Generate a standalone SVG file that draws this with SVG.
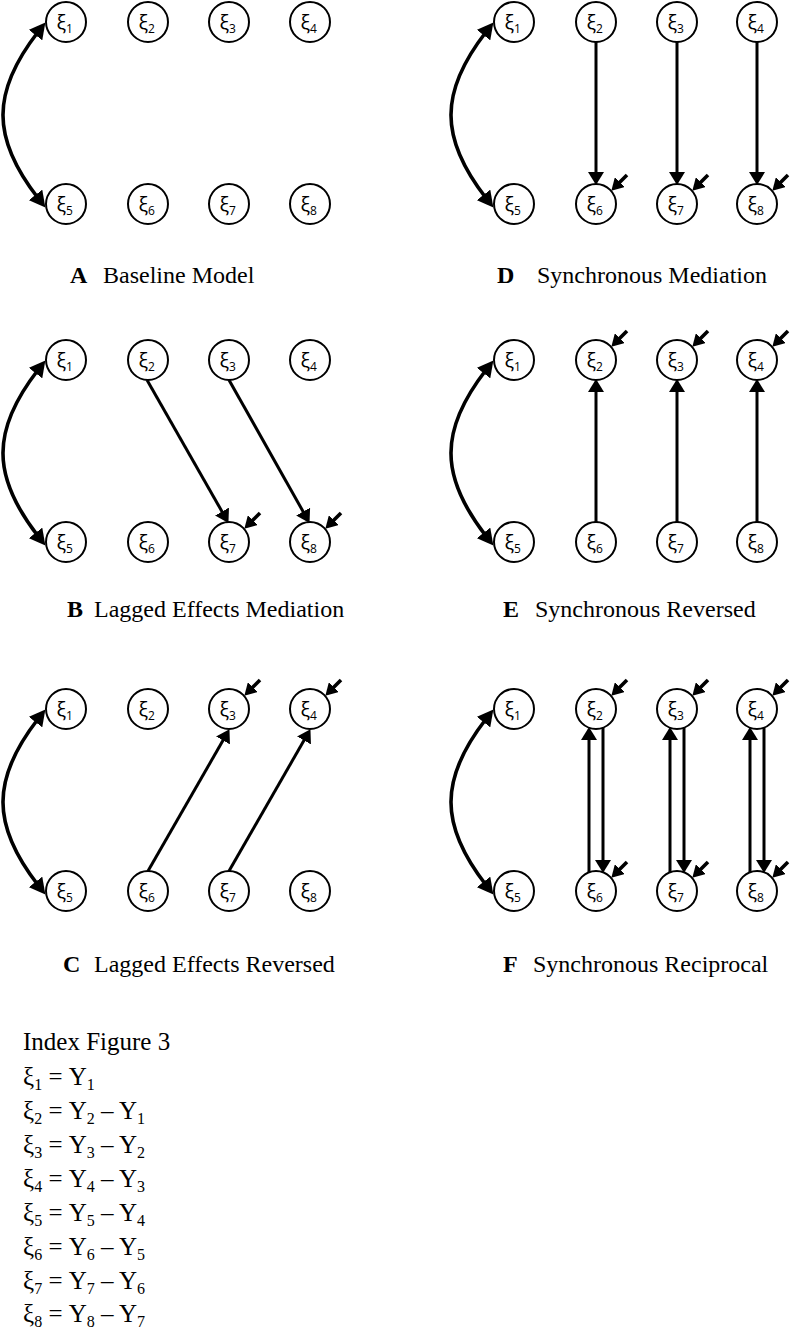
<svg xmlns="http://www.w3.org/2000/svg" width="796" height="1331" viewBox="0 0 796 1331">
<style>
.n circle{fill:#fff;stroke:#000;stroke-width:2}
.n text{font-family:"Open Sans","DejaVu Sans",sans-serif;font-size:20px;text-anchor:middle;fill:#000}
.ns{font-size:12px}
.cv{fill:none;stroke:#000;stroke-width:3.6;marker-start:url(#ac);marker-end:url(#ac)}
.ln{fill:none;stroke:#000;stroke-width:3;marker-end:url(#al)}
.ds{fill:none;stroke:#000;stroke-width:3.6;marker-end:url(#ad)}
.lab{font-family:"Liberation Serif","Times New Roman",serif;font-size:24px;fill:#000}
.k{font-weight:bold}
.idx{font-family:"Liberation Serif","Times New Roman",serif;font-size:25px;fill:#000}
.sb{font-size:16px}
</style>
<defs>
<marker id="ac" markerUnits="userSpaceOnUse" markerWidth="17" markerHeight="17" refX="4" refY="8.5" orient="auto-start-reverse"><path d="M0,0 L16,8.5 L0,17 z" fill="#000"/></marker>
<marker id="al" markerUnits="userSpaceOnUse" markerWidth="15" markerHeight="16" refX="3" refY="8" orient="auto"><path d="M0,0 L13,8 L0,16 z" fill="#000"/></marker>
<marker id="ad" markerUnits="userSpaceOnUse" markerWidth="13" markerHeight="14" refX="3" refY="7" orient="auto"><path d="M0,0 L12,7 L0,14 z" fill="#000"/></marker>
</defs>

<!-- Panel A -->
<g id="panelA">
<g id="A-edges">
<path class="cv" d="M38,32 C-8.7,92 -8.7,138 38,198"/>
</g>
<g id="A1" class="n"><circle cx="66" cy="22" r="20"/><text x="64.7" y="29">ξ<tspan class="ns" dy="4">1</tspan></text></g>
<g id="A2" class="n"><circle cx="148" cy="22" r="20"/><text x="146.7" y="29">ξ<tspan class="ns" dy="4">2</tspan></text></g>
<g id="A3" class="n"><circle cx="229" cy="22" r="20"/><text x="227.7" y="29">ξ<tspan class="ns" dy="4">3</tspan></text></g>
<g id="A4" class="n"><circle cx="310" cy="22" r="20"/><text x="308.7" y="29">ξ<tspan class="ns" dy="4">4</tspan></text></g>
<g id="A5" class="n"><circle cx="66" cy="204" r="20"/><text x="64.7" y="211">ξ<tspan class="ns" dy="4">5</tspan></text></g>
<g id="A6" class="n"><circle cx="148" cy="204" r="20"/><text x="146.7" y="211">ξ<tspan class="ns" dy="4">6</tspan></text></g>
<g id="A7" class="n"><circle cx="229" cy="204" r="20"/><text x="227.7" y="211">ξ<tspan class="ns" dy="4">7</tspan></text></g>
<g id="A8" class="n"><circle cx="310" cy="204" r="20"/><text x="308.7" y="211">ξ<tspan class="ns" dy="4">8</tspan></text></g>
<text class="lab" y="283"><tspan class="k" x="70">A</tspan><tspan x="103">Baseline Model</tspan></text>
</g>

<!-- Panel B -->
<g id="panelB">
<g id="B-edges">
<path class="cv" d="M38,370 C-8.7,430 -8.7,476 38,536"/>
<path class="ln" d="M147,380 L223.5,514.2"/>
<path class="ln" d="M229,380 L304.6,514.2"/>
<path class="ds" d="M260,513 L250.7,522.3"/>
<path class="ds" d="M341,513 L331.7,522.3"/>
</g>
<g id="B1" class="n"><circle cx="66" cy="360" r="20"/><text x="64.7" y="367">ξ<tspan class="ns" dy="4">1</tspan></text></g>
<g id="B2" class="n"><circle cx="148" cy="360" r="20"/><text x="146.7" y="367">ξ<tspan class="ns" dy="4">2</tspan></text></g>
<g id="B3" class="n"><circle cx="229" cy="360" r="20"/><text x="227.7" y="367">ξ<tspan class="ns" dy="4">3</tspan></text></g>
<g id="B4" class="n"><circle cx="310" cy="360" r="20"/><text x="308.7" y="367">ξ<tspan class="ns" dy="4">4</tspan></text></g>
<g id="B5" class="n"><circle cx="66" cy="542" r="20"/><text x="64.7" y="549">ξ<tspan class="ns" dy="4">5</tspan></text></g>
<g id="B6" class="n"><circle cx="148" cy="542" r="20"/><text x="146.7" y="549">ξ<tspan class="ns" dy="4">6</tspan></text></g>
<g id="B7" class="n"><circle cx="229" cy="542" r="20"/><text x="227.7" y="549">ξ<tspan class="ns" dy="4">7</tspan></text></g>
<g id="B8" class="n"><circle cx="310" cy="542" r="20"/><text x="308.7" y="549">ξ<tspan class="ns" dy="4">8</tspan></text></g>
<text class="lab" y="617"><tspan class="k" x="67">B</tspan><tspan x="94">Lagged Effects Mediation</tspan></text>
</g>

<!-- Panel C -->
<g id="panelC">
<g id="C-edges">
<path class="cv" d="M38,719 C-8.7,779 -8.7,825 38,885"/>
<path class="ln" d="M148,871 L224.5,737.8"/>
<path class="ln" d="M229,871 L305.5,737.8"/>
<path class="ds" d="M260,680 L250.7,689.3"/>
<path class="ds" d="M341,680 L331.7,689.3"/>
</g>
<g id="C1" class="n"><circle cx="66" cy="709" r="20"/><text x="64.7" y="716">ξ<tspan class="ns" dy="4">1</tspan></text></g>
<g id="C2" class="n"><circle cx="148" cy="709" r="20"/><text x="146.7" y="716">ξ<tspan class="ns" dy="4">2</tspan></text></g>
<g id="C3" class="n"><circle cx="229" cy="709" r="20"/><text x="227.7" y="716">ξ<tspan class="ns" dy="4">3</tspan></text></g>
<g id="C4" class="n"><circle cx="310" cy="709" r="20"/><text x="308.7" y="716">ξ<tspan class="ns" dy="4">4</tspan></text></g>
<g id="C5" class="n"><circle cx="66" cy="891" r="20"/><text x="64.7" y="898">ξ<tspan class="ns" dy="4">5</tspan></text></g>
<g id="C6" class="n"><circle cx="148" cy="891" r="20"/><text x="146.7" y="898">ξ<tspan class="ns" dy="4">6</tspan></text></g>
<g id="C7" class="n"><circle cx="229" cy="891" r="20"/><text x="227.7" y="898">ξ<tspan class="ns" dy="4">7</tspan></text></g>
<g id="C8" class="n"><circle cx="310" cy="891" r="20"/><text x="308.7" y="898">ξ<tspan class="ns" dy="4">8</tspan></text></g>
<text class="lab" y="972"><tspan class="k" x="63">C</tspan><tspan x="94">Lagged Effects Reversed</tspan></text>
</g>

<!-- Panel D -->
<g id="panelD">
<g id="D-edges">
<path class="cv" d="M486,32 C439.3,92 439.3,138 486,198"/>
<path class="ln" d="M596,42 L596,175"/>
<path class="ln" d="M677,42 L677,175"/>
<path class="ln" d="M757,42 L757,175"/>
<path class="ds" d="M627,175 L617.7,184.3"/>
<path class="ds" d="M708,175 L698.7,184.3"/>
<path class="ds" d="M788,175 L778.7,184.3"/>
</g>
<g id="D1" class="n"><circle cx="514" cy="22" r="20"/><text x="512.7" y="29">ξ<tspan class="ns" dy="4">1</tspan></text></g>
<g id="D2" class="n"><circle cx="596" cy="22" r="20"/><text x="594.7" y="29">ξ<tspan class="ns" dy="4">2</tspan></text></g>
<g id="D3" class="n"><circle cx="677" cy="22" r="20"/><text x="675.7" y="29">ξ<tspan class="ns" dy="4">3</tspan></text></g>
<g id="D4" class="n"><circle cx="757" cy="22" r="20"/><text x="755.7" y="29">ξ<tspan class="ns" dy="4">4</tspan></text></g>
<g id="D5" class="n"><circle cx="514" cy="204" r="20"/><text x="512.7" y="211">ξ<tspan class="ns" dy="4">5</tspan></text></g>
<g id="D6" class="n"><circle cx="596" cy="204" r="20"/><text x="594.7" y="211">ξ<tspan class="ns" dy="4">6</tspan></text></g>
<g id="D7" class="n"><circle cx="677" cy="204" r="20"/><text x="675.7" y="211">ξ<tspan class="ns" dy="4">7</tspan></text></g>
<g id="D8" class="n"><circle cx="757" cy="204" r="20"/><text x="755.7" y="211">ξ<tspan class="ns" dy="4">8</tspan></text></g>
<text class="lab" y="283"><tspan class="k" x="497">D</tspan><tspan x="537">Synchronous Mediation</tspan></text>
</g>

<!-- Panel E -->
<g id="panelE">
<g id="E-edges">
<path class="cv" d="M486,370 C439.3,430 439.3,476 486,536"/>
<path class="ln" d="M596,522 L596,389"/>
<path class="ln" d="M677,522 L677,389"/>
<path class="ln" d="M757,522 L757,389"/>
<path class="ds" d="M627,331 L617.7,340.3"/>
<path class="ds" d="M708,331 L698.7,340.3"/>
<path class="ds" d="M788,331 L778.7,340.3"/>
</g>
<g id="E1" class="n"><circle cx="514" cy="360" r="20"/><text x="512.7" y="367">ξ<tspan class="ns" dy="4">1</tspan></text></g>
<g id="E2" class="n"><circle cx="596" cy="360" r="20"/><text x="594.7" y="367">ξ<tspan class="ns" dy="4">2</tspan></text></g>
<g id="E3" class="n"><circle cx="677" cy="360" r="20"/><text x="675.7" y="367">ξ<tspan class="ns" dy="4">3</tspan></text></g>
<g id="E4" class="n"><circle cx="757" cy="360" r="20"/><text x="755.7" y="367">ξ<tspan class="ns" dy="4">4</tspan></text></g>
<g id="E5" class="n"><circle cx="514" cy="542" r="20"/><text x="512.7" y="549">ξ<tspan class="ns" dy="4">5</tspan></text></g>
<g id="E6" class="n"><circle cx="596" cy="542" r="20"/><text x="594.7" y="549">ξ<tspan class="ns" dy="4">6</tspan></text></g>
<g id="E7" class="n"><circle cx="677" cy="542" r="20"/><text x="675.7" y="549">ξ<tspan class="ns" dy="4">7</tspan></text></g>
<g id="E8" class="n"><circle cx="757" cy="542" r="20"/><text x="755.7" y="549">ξ<tspan class="ns" dy="4">8</tspan></text></g>
<text class="lab" y="617"><tspan class="k" x="503">E</tspan><tspan x="535">Synchronous Reversed</tspan></text>
</g>

<!-- Panel F -->
<g id="panelF">
<g id="F-edges">
<path class="cv" d="M486,719 C439.3,779 439.3,825 486,885"/>
<path class="ln" d="M589,872 L589,737"/>
<path class="ln" d="M603,728 L603,863"/>
<path class="ln" d="M670,872 L670,737"/>
<path class="ln" d="M684,728 L684,863"/>
<path class="ln" d="M750,872 L750,737"/>
<path class="ln" d="M764,728 L764,863"/>
<path class="ds" d="M627,680 L617.7,689.3"/>
<path class="ds" d="M708,680 L698.7,689.3"/>
<path class="ds" d="M788,680 L778.7,689.3"/>
<path class="ds" d="M627,862 L617.7,871.3"/>
<path class="ds" d="M708,862 L698.7,871.3"/>
<path class="ds" d="M788,862 L778.7,871.3"/>
</g>
<g id="F1" class="n"><circle cx="514" cy="709" r="20"/><text x="512.7" y="716">ξ<tspan class="ns" dy="4">1</tspan></text></g>
<g id="F2" class="n"><circle cx="596" cy="709" r="20"/><text x="594.7" y="716">ξ<tspan class="ns" dy="4">2</tspan></text></g>
<g id="F3" class="n"><circle cx="677" cy="709" r="20"/><text x="675.7" y="716">ξ<tspan class="ns" dy="4">3</tspan></text></g>
<g id="F4" class="n"><circle cx="757" cy="709" r="20"/><text x="755.7" y="716">ξ<tspan class="ns" dy="4">4</tspan></text></g>
<g id="F5" class="n"><circle cx="514" cy="891" r="20"/><text x="512.7" y="898">ξ<tspan class="ns" dy="4">5</tspan></text></g>
<g id="F6" class="n"><circle cx="596" cy="891" r="20"/><text x="594.7" y="898">ξ<tspan class="ns" dy="4">6</tspan></text></g>
<g id="F7" class="n"><circle cx="677" cy="891" r="20"/><text x="675.7" y="898">ξ<tspan class="ns" dy="4">7</tspan></text></g>
<g id="F8" class="n"><circle cx="757" cy="891" r="20"/><text x="755.7" y="898">ξ<tspan class="ns" dy="4">8</tspan></text></g>
<text class="lab" y="972"><tspan class="k" x="503">F</tspan><tspan x="533">Synchronous Reciprocal</tspan></text>
</g>

<!-- Index -->
<g id="index" class="idx">
<text x="23" y="1050">Index Figure 3</text>
<text x="23" y="1085">ξ<tspan class="sb" dy="5">1</tspan><tspan dy="-5"> = Y</tspan><tspan class="sb" dy="5">1</tspan></text>
<text x="23" y="1119">ξ<tspan class="sb" dy="5">2</tspan><tspan dy="-5"> = Y</tspan><tspan class="sb" dy="5">2</tspan><tspan dy="-5"> – Y</tspan><tspan class="sb" dy="5">1</tspan></text>
<text x="23" y="1153">ξ<tspan class="sb" dy="5">3</tspan><tspan dy="-5"> = Y</tspan><tspan class="sb" dy="5">3</tspan><tspan dy="-5"> – Y</tspan><tspan class="sb" dy="5">2</tspan></text>
<text x="23" y="1187">ξ<tspan class="sb" dy="5">4</tspan><tspan dy="-5"> = Y</tspan><tspan class="sb" dy="5">4</tspan><tspan dy="-5"> – Y</tspan><tspan class="sb" dy="5">3</tspan></text>
<text x="23" y="1221">ξ<tspan class="sb" dy="5">5</tspan><tspan dy="-5"> = Y</tspan><tspan class="sb" dy="5">5</tspan><tspan dy="-5"> – Y</tspan><tspan class="sb" dy="5">4</tspan></text>
<text x="23" y="1255">ξ<tspan class="sb" dy="5">6</tspan><tspan dy="-5"> = Y</tspan><tspan class="sb" dy="5">6</tspan><tspan dy="-5"> – Y</tspan><tspan class="sb" dy="5">5</tspan></text>
<text x="23" y="1289">ξ<tspan class="sb" dy="5">7</tspan><tspan dy="-5"> = Y</tspan><tspan class="sb" dy="5">7</tspan><tspan dy="-5"> – Y</tspan><tspan class="sb" dy="5">6</tspan></text>
<text x="23" y="1322">ξ<tspan class="sb" dy="5">8</tspan><tspan dy="-5"> = Y</tspan><tspan class="sb" dy="5">8</tspan><tspan dy="-5"> – Y</tspan><tspan class="sb" dy="5">7</tspan></text>
</g>
</svg>
